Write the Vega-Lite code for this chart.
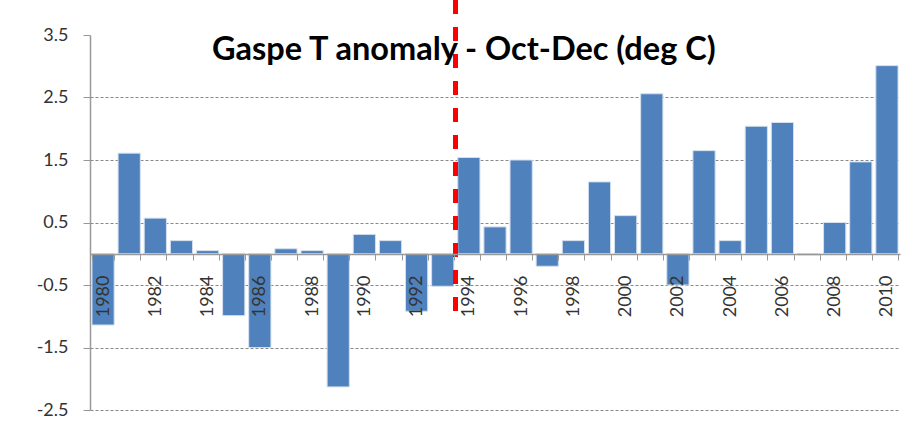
{
  "$schema": "https://vega.github.io/schema/vega-lite/v6.json",
  "width": 810,
  "height": 375,
  "autosize": {"type": "none"},
  "padding": {"left": 90, "top": 35, "right": 16, "bottom": 20},
  "background": "white",
  "config": {"view": {"stroke": null}, "font": "Lato"},
  "title": {
    "text": "Gaspe T anomaly - Oct-Dec (deg C)",
    "font": "Lato",
    "fontSize": 32.5,
    "fontWeight": "bold",
    "color": "#000000",
    "anchor": "start",
    "frame": "group",
    "dx": 122,
    "baseline": "alphabetic",
    "offset": -94
  },
  "data": {
    "values": [
      {"year": 1980, "anomaly": -1.14},
      {"year": 1981, "anomaly": 1.61},
      {"year": 1982, "anomaly": 0.57},
      {"year": 1983, "anomaly": 0.21},
      {"year": 1984, "anomaly": 0.05},
      {"year": 1985, "anomaly": -0.99},
      {"year": 1986, "anomaly": -1.5},
      {"year": 1987, "anomaly": 0.08},
      {"year": 1988, "anomaly": 0.05},
      {"year": 1989, "anomaly": -2.13},
      {"year": 1990, "anomaly": 0.31},
      {"year": 1991, "anomaly": 0.21},
      {"year": 1992, "anomaly": -0.92},
      {"year": 1993, "anomaly": -0.52},
      {"year": 1994, "anomaly": 1.54},
      {"year": 1995, "anomaly": 0.43},
      {"year": 1996, "anomaly": 1.5},
      {"year": 1997, "anomaly": -0.2},
      {"year": 1998, "anomaly": 0.21},
      {"year": 1999, "anomaly": 1.15},
      {"year": 2000, "anomaly": 0.61},
      {"year": 2001, "anomaly": 2.56},
      {"year": 2002, "anomaly": -0.5},
      {"year": 2003, "anomaly": 1.65},
      {"year": 2004, "anomaly": 0.21},
      {"year": 2005, "anomaly": 2.04},
      {"year": 2006, "anomaly": 2.1},
      {"year": 2007, "anomaly": -0.02},
      {"year": 2008, "anomaly": 0.5},
      {"year": 2009, "anomaly": 1.47},
      {"year": 2010, "anomaly": 3.01}
    ]
  },
  "layer": [
    {
      "mark": {"type": "bar", "color": "#4F81BD", "stroke": "#d5e0ee", "strokeWidth": 1},
      "encoding": {
        "x": {
          "field": "year",
          "type": "ordinal",
          "scale": {"paddingInner": 0.15, "paddingOuter": 0.075},
          "axis": {
            "title": null,
            "zindex": 1,
            "offset": -156,
            "domainColor": "#999999",
            "domainWidth": 1.5,
            "tickColor": "#999999",
            "tickSize": 6,
            "tickBand": "extent",
            "labelAngle": -90,
            "labelAlign": "right",
            "labelBaseline": "middle",
            "labelPadding": 15,
            "labelFontSize": 18,
            "labelColor": "#333333",
            "labelOverlap": false,
            "labelExpr": "datum.value % 2 == 0 ? datum.label : ''",
            "grid": false
          }
        },
        "y": {
          "field": "anomaly",
          "type": "quantitative",
          "scale": {"domain": [-2.5, 3.5], "nice": false, "zero": false},
          "axis": {
            "title": null,
            "values": [-2.5, -1.5, -0.5, 0.5, 1.5, 2.5, 3.5],
            "format": ".1f",
            "labelExpr": "replace(datum.label, '\u2212', '-')",
            "domainColor": "#999999",
            "domainWidth": 1.5,
            "tickColor": "#999999",
            "tickSize": 7,
            "labelPadding": 15,
            "labelFontSize": 18,
            "labelColor": "#333333",
            "grid": true,
            "gridColor": {"condition": {"test": "datum.value == 3.5", "value": "transparent"}, "value": "#888888"},
            "gridDash": [3, 2],
            "gridWidth": 1
          }
        }
      }
    },
    {
      "mark": {"type": "rule", "color": "#FF0000", "strokeWidth": 4, "strokeDash": [14, 13], "clip": false},
      "encoding": {
        "x": {"datum": 1994, "type": "ordinal", "bandPosition": -0.09},
        "y": {"datum": 4.06, "type": "quantitative"},
        "y2": {"datum": -0.92}
      }
    }
  ]
}
